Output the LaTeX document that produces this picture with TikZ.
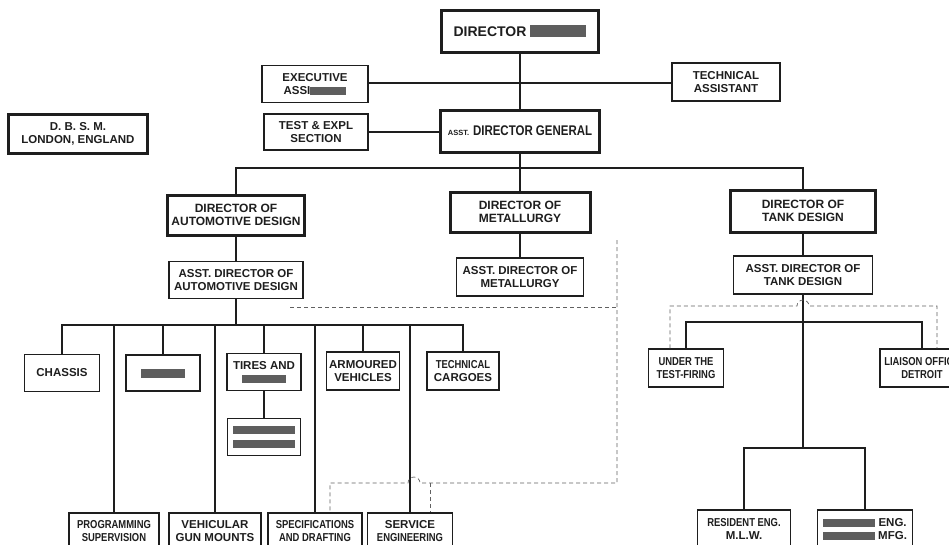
\documentclass[tikz,border=0pt]{standalone}
\usepackage{fontspec}
\setmainfont{Liberation Sans}
\usepackage{tikz}

\definecolor{ink}{HTML}{1E1E1E}
\definecolor{blot}{HTML}{5E5E5E}
% redacted words
\newcommand{\blot}[2][8pt]{\textcolor{blot}{\rule[-1pt]{#2}{#1}}}
% squeezed lettering
\newcommand{\tight}[1]{\scalebox{0.82}[1]{#1}}

\begin{document}
\begin{tikzpicture}[x=1pt, y=-1pt,
        every node/.style={font=\bfseries\fontsize{11.5}{13}\selectfont, text=ink, align=center},
        unit/.style={draw=ink, line width=1.5pt, fill=white, inner sep=1pt},
        head/.style={unit, line width=3pt},
        large/.style={font=\bfseries\fontsize{14}{15}\selectfont},
        mid/.style={font=\bfseries\fontsize{12}{13.5}\selectfont},
        link/.style={draw=ink, line width=1.6pt},
        staff/.style={draw=ink!70, line width=0.7pt, dash pattern=on 4pt off 3pt}]
    \useasboundingbox[fill=white] (0,0) rectangle (949,544);

    % top
    \node[head, large, minimum width=157pt, minimum height=42pt] (dir) at (520,31) {DIRECTOR \blot[12pt]{56pt}};
    \node[unit, minimum width=106pt, minimum height=37pt] (exas) at (315,84) {EXECUTIVE\\ASSI\blot{36pt}};
    \node[unit, minimum width=108pt, minimum height=38pt] (teas) at (726,82) {TECHNICAL\\ASSISTANT};
    \node[head, minimum width=139pt, minimum height=39pt] (dbsm) at (78,134) {D. B. S. M.\\LONDON, ENGLAND};
    \node[unit, minimum width=104pt, minimum height=36pt] (test) at (316,132) {TEST \& EXPL\\SECTION};
    \node[head, large, minimum width=159pt, minimum height=42pt] (adg) at (520,131) {{\fontsize{7.5}{8}\selectfont ASST.} \tight{DIRECTOR GENERAL}};
    \coordinate (cross) at (520,83);

    % directors
    \node[head, mid, minimum width=137pt, minimum height=40pt] (dauto) at (236,215) {DIRECTOR OF\\AUTOMOTIVE DESIGN};
    \node[head, mid, minimum width=140pt, minimum height=40pt] (dmet) at (520,212) {DIRECTOR OF\\METALLURGY};
    \node[head, mid, minimum width=145pt, minimum height=42pt] (dtank) at (803,211) {DIRECTOR OF\\TANK DESIGN};
    \node[unit, minimum width=134pt, minimum height=37pt] (aauto) at (236,280) {ASST. DIRECTOR OF\\AUTOMOTIVE DESIGN};
    \node[unit, minimum width=127pt, minimum height=38pt] (amet) at (520,277) {ASST. DIRECTOR OF\\METALLURGY};
    \node[unit, minimum width=139pt, minimum height=38pt] (atank) at (803,275) {ASST. DIRECTOR OF\\TANK DESIGN};
    \coordinate (bus1) at (520,168);

    % automotive sections
    \node[unit, minimum width=75pt, minimum height=37pt] (chassis) at (62,373) {CHASSIS};
    \node[unit, minimum width=74pt, minimum height=36pt] (blank) at (163,373) {\blot[9pt]{44pt}};
    \node[unit, minimum width=74pt, minimum height=37pt] (tires) at (264,372) {TIRES AND\\\blot{44pt}};
    \node[unit, minimum width=73pt, minimum height=38pt] (armour) at (363,371) {ARMOURED\\VEHICLES};
    \node[unit, minimum width=72pt, minimum height=38pt] (cargo) at (463,371) {\tight{TECHNICAL}\\CARGOES};
    \node[unit, minimum width=73pt, minimum height=37pt] (tirechild) at (264,437) {\blot{62pt}\\[1pt]\blot{62pt}};
    \node[unit, minimum width=90pt, minimum height=36pt] (prog) at (114,531) {\tight{PROGRAMMING}\\\tight{SUPERVISION}};
    \node[unit, minimum width=92pt, minimum height=36pt] (vgm) at (215,531) {VEHICULAR\\GUN MOUNTS};
    \node[unit, minimum width=94pt, minimum height=36pt] (spec) at (315,531) {\tight{SPECIFICATIONS}\\\tight{AND DRAFTING}};
    \node[unit, minimum width=85pt, minimum height=36pt] (serv) at (410,531) {SERVICE\\\tight{ENGINEERING}};
    \coordinate (bus2) at (236,325);

    % tank sections
    \node[unit, minimum width=75pt, minimum height=38pt] (unde) at (686,368) {\tight{UNDER THE}\\\tight{TEST-FIRING}};
    \node[unit, minimum width=84pt, minimum height=38pt] (liaison) at (922,368) {\tight{LIAISON OFFICE}\\\tight{DETROIT}};
    \node[unit, minimum width=93pt, minimum height=38pt] (resid) at (744,529) {\tight{RESIDENT ENG.}\\M.L.W.};
    \node[unit, minimum width=95pt, minimum height=38pt] (mfg) at (865,529) {\blot{52pt} ENG.\\\blot{52pt} MFG.};
    \coordinate (bus3) at (803,322);
    \coordinate (bus4) at (803,448);

    % solid lines
    \draw[link] (dir) -- (adg);
    \draw[link] (exas.east |- cross) -- (teas.west |- cross);
    \draw[link] (test.east) -- (test.east -| adg.west);
    \draw[link] (adg) -- (dmet);
    \draw[link] (dauto.north) |- (bus1) -| (dtank.north);
    \draw[link] (dauto) -- (aauto);
    \draw[link] (dmet) -- (amet);
    \draw[link] (dtank) -- (atank);
    \draw[link] (aauto.south) -- (bus2);
    \draw[link] (chassis.north) |- (bus2) -| (cargo.north);
    \foreach \n in {blank, tires, armour, prog, vgm, spec, serv}
        \draw[link] (\n.north) -- (\n.north |- bus2);
    \draw[link] (tires) -- (tirechild);
    \draw[link] (atank.south) -- (bus4);
    \draw[link] (unde.north) |- (bus3) -| (liaison.north);
    \draw[link] (resid.north) |- (bus4) -| (mfg.north);

    % dashed lines
    \coordinate (s1) at (290,307);
    \coordinate (s2) at (617,307);
    \coordinate (s3) at (617,240);
    \coordinate (s4) at (617,483);
    \coordinate (s5) at (330,483);
    \coordinate (s6) at (430,483);
    \coordinate (t1) at (670,306);
    \coordinate (t2) at (937,306);
    \draw[staff] (s1) -- (s2);
    \draw[staff] (s3) -- (s4) -- (s6) -- ++(-10,0) arc[start angle=0, end angle=-180, radius=6] -- (s5) -- (s5 |- spec.north);
    \draw[staff] (s6) -- (s6 |- serv.north);
    \draw[staff] (unde.north -| t1) -- (t1) -- ([xshift=-6pt]t1 -| atank.south) arc[start angle=180, end angle=360, radius=6] -- (t2) -- (t2 |- liaison.north);
\end{tikzpicture}
\end{document}
